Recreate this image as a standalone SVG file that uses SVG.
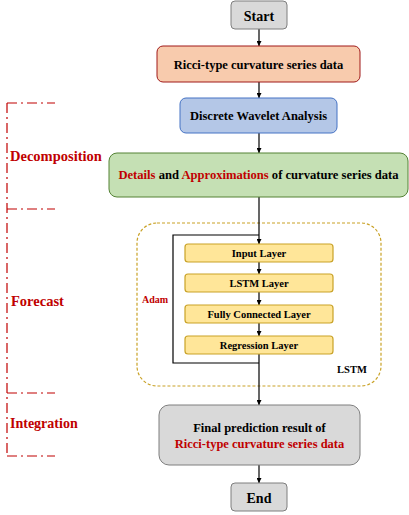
<svg xmlns="http://www.w3.org/2000/svg" width="409" height="515" viewBox="0 0 409 515">
<defs>
<marker id="ah" viewBox="0 0 6 6" refX="6" refY="3" markerWidth="5" markerHeight="5" orient="auto" markerUnits="userSpaceOnUse">
<path d="M0,0 L6,3 L0,6 z" fill="#000"/>
</marker>
<style>
text{font-family:"Liberation Serif","Times New Roman",serif;font-weight:bold;text-anchor:middle;fill:#000}
.red{fill:#c00000}
.lbl{text-anchor:start;fill:#c00000}
.gray{fill:#d9d9d9;stroke:#7f7f7f;stroke-width:1}
.layer{fill:#ffe699;stroke:#c9a227;stroke-width:1.2}
.conn{stroke:#000;stroke-width:1.2;fill:none}
.br{stroke:#c00000;stroke-width:1.2;fill:none;stroke-dasharray:10 4 2 4}
</style>
</defs>

<g id="brackets">
<path class="br" d="M7,103 V456"/>
<path class="br" d="M7,103 H55"/>
<path class="br" d="M7,209 H55"/>
<path class="br" d="M7,393 H55"/>
<path class="br" d="M7,456 H55"/>
<text class="lbl" x="10" y="161" font-size="14.5">Decomposition</text>
<text class="lbl" x="11" y="306" font-size="14.5">Forecast</text>
<text class="lbl" x="10" y="428" font-size="14">Integration</text>
</g>

<g id="lstm-container">
<rect x="137" y="223" width="244" height="163" rx="20" fill="none" stroke="#c9a227" stroke-width="1.2" stroke-dasharray="3 2"/>
<text x="352" y="373" font-size="10.5">LSTM</text>
</g>

<g id="connectors">
<path class="conn" d="M259,29 V46" marker-end="url(#ah)"/>
<path class="conn" d="M259,82 V98" marker-end="url(#ah)"/>
<path class="conn" d="M259,133 V153" marker-end="url(#ah)"/>
<path class="conn" d="M259,197 V244" marker-end="url(#ah)"/>
<path class="conn" d="M259,262 V274" marker-end="url(#ah)"/>
<path class="conn" d="M259,292 V305" marker-end="url(#ah)"/>
<path class="conn" d="M259,323 V336" marker-end="url(#ah)"/>
<path class="conn" d="M259,354 V405" marker-end="url(#ah)"/>
<path class="conn" d="M259,465 V483" marker-end="url(#ah)"/>
<path class="conn" d="M259,363 H173 V235 H259"/>
<text class="red" x="155" y="303" font-size="10">Adam</text>
</g>

<g id="start">
<rect class="gray" x="231" y="1" width="56" height="28" rx="4"/>
<text x="259" y="20.5" font-size="14">Start</text>
</g>

<g id="ricci">
<rect x="157" y="46" width="203" height="36" rx="6" fill="#f8cbad" stroke="#a01818" stroke-width="1"/>
<text x="258.5" y="68.5" font-size="12.5">Ricci-type curvature series data</text>
</g>

<g id="dwa">
<rect x="180" y="98" width="157" height="35" rx="6" fill="#b4c7e7" stroke="#4472c4" stroke-width="1"/>
<text x="258.5" y="120" font-size="12.5">Discrete Wavelet Analysis</text>
</g>

<g id="details">
<rect x="109" y="153" width="299" height="44" rx="8" fill="#c5e0b4" stroke="#548235" stroke-width="1"/>
<text x="258.5" y="179" font-size="12.6"><tspan class="red">Details</tspan> and <tspan class="red">Approximations</tspan> of curvature series data</text>
</g>

<g id="input-layer">
<rect class="layer" x="185" y="244" width="148" height="18" rx="3"/>
<text x="259" y="257" font-size="10.5">Input Layer</text>
</g>
<g id="lstm-layer">
<rect class="layer" x="185" y="274" width="148" height="18" rx="3"/>
<text x="259" y="287" font-size="10.5">LSTM Layer</text>
</g>
<g id="fc-layer">
<rect class="layer" x="185" y="305" width="148" height="18" rx="3"/>
<text x="259" y="318" font-size="10.5">Fully Connected Layer</text>
</g>
<g id="regression-layer">
<rect class="layer" x="185" y="336" width="148" height="18" rx="3"/>
<text x="259" y="349" font-size="10.5">Regression Layer</text>
</g>

<g id="final">
<rect class="gray" x="159" y="405" width="201" height="60" rx="10"/>
<text x="259.5" y="432" font-size="12.5">Final prediction result of</text>
<text class="red" x="259.5" y="448" font-size="12.5">Ricci-type curvature series data</text>
</g>

<g id="end">
<rect class="gray" x="231" y="483" width="56" height="28" rx="4"/>
<text x="259" y="502.5" font-size="14">End</text>
</g>
</svg>
